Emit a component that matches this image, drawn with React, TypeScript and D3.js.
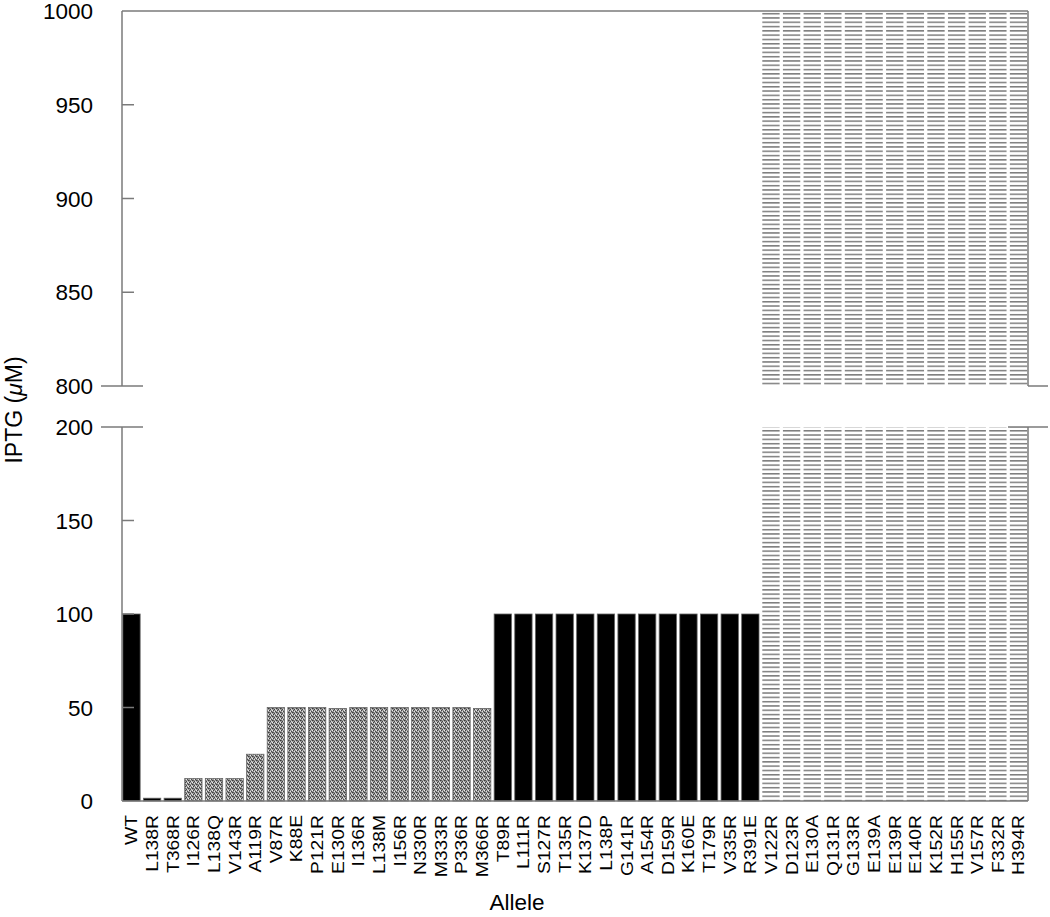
import * as d3 from 'd3';

// alleles, left to right
const alleles = [
  'WT', 'L138R', 'T368R', 'I126R', 'L138Q', 'V143R', 'A119R', 'V87R', 'K88E', 'P121R',
  'E130R', 'I136R', 'L138M', 'I156R', 'N330R', 'M333R', 'P336R', 'M366R',
  'T89R', 'L111R', 'S127R', 'T135R', 'K137D', 'L138P', 'G141R', 'A154R', 'D159R',
  'K160E', 'T179R', 'V335R', 'R391E',
  'V122R', 'D123R', 'E130A', 'Q131R', 'G133R', 'E139A', 'E139R', 'E140R', 'K152R',
  'H155R', 'V157R', 'F332R', 'H394R',
];

// IPTG (uM) per allele
const iptg = [
  100, 1.5, 1.5, 12, 12, 12, 25, 50, 50, 50,
  49.5, 50, 50, 50, 50, 50, 50, 49.5,
  100, 100, 100, 100, 100, 100, 100, 100, 100,
  100, 100, 100, 100,
  1000, 1000, 1000, 1000, 1000, 1000, 1000, 1000, 1000,
  1000, 1000, 1000, 1000,
];

// fill style per allele
const fills = [
  'black', 'black', 'black', 'dots', 'dots', 'dots', 'dots', 'dots', 'dots', 'dots',
  'dots', 'dots', 'dots', 'dots', 'dots', 'dots', 'dots', 'dots',
  'black', 'black', 'black', 'black', 'black', 'black', 'black', 'black', 'black',
  'black', 'black', 'black', 'black',
  'lines', 'lines', 'lines', 'lines', 'lines', 'lines', 'lines', 'lines', 'lines',
  'lines', 'lines', 'lines', 'lines',
];

const lowerTicks = [0, 50, 100, 150, 200];
const upperTicks = [800, 850, 900, 950, 1000];

const W = 1050;
const H = 917;
const left = 122;
const right = 1028;
const axisColor = '#7a7a7a';
const font = '"Liberation Sans", Arial, sans-serif';

export default function App() {
  const x = d3.scaleBand<string>().domain(alleles).range([left, right]).paddingInner(0.16).paddingOuter(0.04);
  const yLow = d3.scaleLinear().domain([0, 200]).range([801, 427]);
  const yHigh = d3.scaleLinear().domain([800, 1000]).range([386, 11]);

  const fillOf = (f: string) => (f === 'black' ? '#000' : f === 'dots' ? 'url(#dots)' : 'url(#lines)');

  return (
    <div style={{ position: 'absolute', left: 0, top: 0 }}>
      <svg width={W} height={H} style={{ display: 'block', background: '#fff' }}>
        <defs>
          <pattern id="dots" width={4} height={4} patternUnits="userSpaceOnUse">
            <rect width={4} height={4} fill="#999" />
            <rect x={0} y={0} width={1} height={1} fill="#3a3a3a" />
            <rect x={2} y={1} width={1} height={1} fill="#444" />
            <rect x={1} y={2} width={1} height={1} fill="#3f3f3f" />
            <rect x={3} y={3} width={1} height={1} fill="#4a4a4a" />
            <rect x={1} y={0} width={1} height={1} fill="#666" />
            <rect x={2} y={3} width={1} height={1} fill="#e4e4e4" />
            <rect x={0} y={2} width={1} height={1} fill="#ececec" />
            <rect x={3} y={1} width={1} height={1} fill="#d8d8d8" />
          </pattern>
          <pattern id="lines" width={10} height={4.3} patternUnits="userSpaceOnUse">
            <rect width={10} height={4.3} fill="#fff" />
            <rect x={0} y={0} width={10} height={1.5} fill="#7c7c7c" />
          </pattern>
        </defs>

        {/* lower panel bars */}
        {alleles.map((a, i) => {
          const v = Math.min(iptg[i], 200);
          const f = fills[i];
          return (
            <rect
              key={'lo' + a}
              x={x(a)}
              y={yLow(v)}
              width={x.bandwidth()}
              height={yLow(0) - yLow(v)}
              fill={fillOf(f)}
              stroke={f === 'lines' ? 'none' : '#666'}
              strokeWidth={f === 'lines' ? 0 : 0.8}
            />
          );
        })}

        {/* upper panel bars */}
        {alleles.map((a, i) => {
          if (iptg[i] <= 800) return null;
          const v = Math.min(iptg[i], 1000);
          return (
            <rect
              key={'hi' + a}
              x={x(a)}
              y={yHigh(v)}
              width={x.bandwidth()}
              height={yHigh(800) - yHigh(v)}
              fill={fillOf(fills[i])}
            />
          );
        })}

        {/* axes */}
        <g stroke={axisColor} strokeWidth={1.5} fill="none">
          <line x1={left} x2={right} y1={yHigh(1000)} y2={yHigh(1000)} />
          <line x1={left} x2={left} y1={yHigh(1000)} y2={yHigh(800)} />
          <line x1={right} x2={right} y1={yHigh(1000)} y2={yHigh(800)} />
          <line x1={left} x2={left} y1={yLow(200)} y2={yLow(0)} />
          <line x1={right} x2={right} y1={yLow(200)} y2={yLow(0)} />
          <line x1={left} x2={right} y1={yLow(0)} y2={yLow(0)} />
          {/* break marks */}
          <line x1={left - 21} x2={left + 21} y1={yHigh(800)} y2={yHigh(800)} />
          <line x1={left - 21} x2={left + 21} y1={yLow(200)} y2={yLow(200)} />
          <line x1={right} x2={right + 20} y1={yHigh(800)} y2={yHigh(800)} />
          <line x1={right - 20} x2={right + 20} y1={yLow(200)} y2={yLow(200)} />
          {upperTicks.slice(1, -1).map((t) => (
            <line key={'ut' + t} x1={left} x2={left + 12} y1={yHigh(t)} y2={yHigh(t)} />
          ))}
          {lowerTicks.slice(1, -1).map((t) => (
            <line key={'lt' + t} x1={left} x2={left + 12} y1={yLow(t)} y2={yLow(t)} />
          ))}
        </g>

        {/* y tick labels */}
        <g fontFamily={font} fontSize={22.5} fill="#000" textAnchor="end">
          {upperTicks.map((t) => (
            <text key={'ul' + t} x={93} y={yHigh(t)} dy="0.36em">{t}</text>
          ))}
          {lowerTicks.map((t) => (
            <text key={'ll' + t} x={93} y={yLow(t)} dy="0.36em">{t}</text>
          ))}
        </g>

        {/* x tick labels */}
        <g fontFamily={font} fontSize={16.5} fill="#000" textAnchor="end">
          {alleles.map((a) => (
            <text
              key={'xl' + a}
              transform={`translate(${(x(a) ?? 0) + x.bandwidth() / 2},815) rotate(-90) scale(1.17,1)`}
              dy="0.36em"
            >
              {a}
            </text>
          ))}
        </g>

        {/* axis titles */}
        <text x={517} y={910} fontFamily={font} fontSize={22.5} textAnchor="middle">Allele</text>
        <text transform="translate(22,410) rotate(-90)" fontFamily={font} fontSize={23} textAnchor="middle">
          IPTG (<tspan fontStyle="italic">μ</tspan>M)
        </text>
      </svg>
    </div>
  );
}
